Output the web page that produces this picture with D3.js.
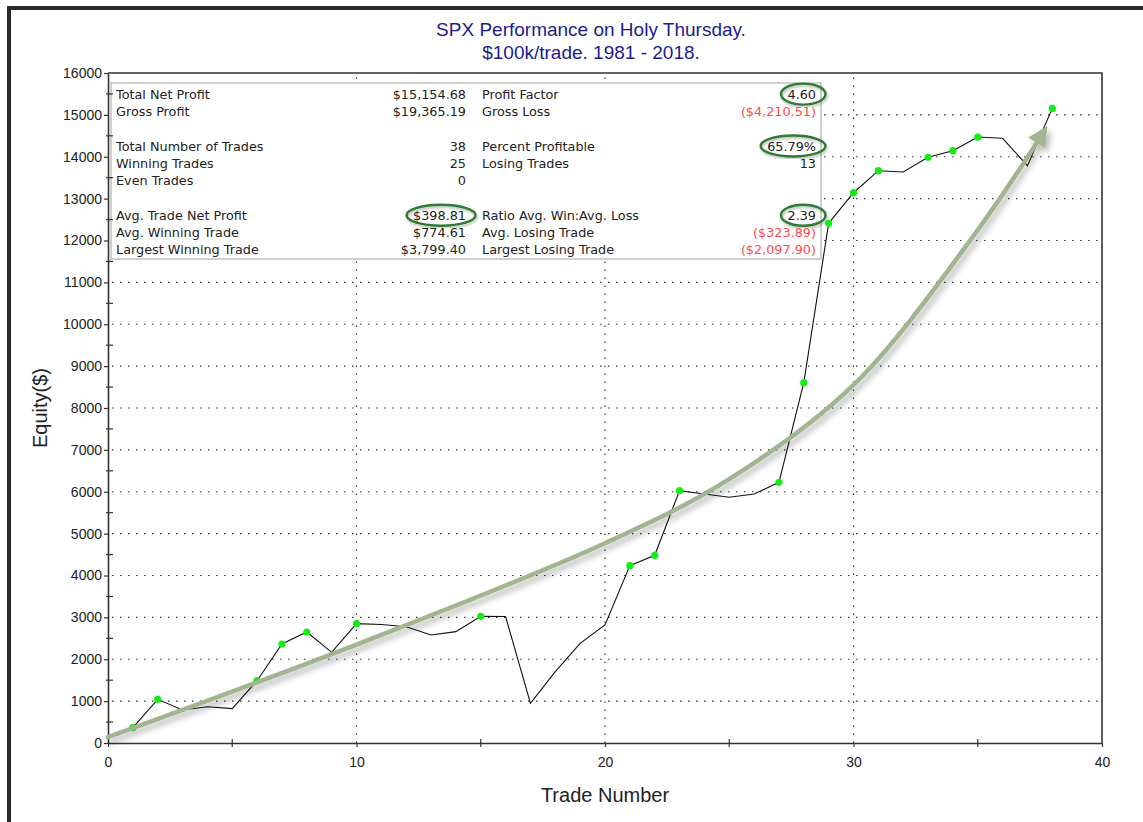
<!DOCTYPE html>
<html>
<head>
<meta charset="utf-8">
<script src="https://cdn.jsdelivr.net/npm/d3@7"></script>
<style>
  body { margin: 0; background: #fff; }
  svg { display: block; }
</style>
</head>
<body>
<svg id="chart"></svg>
<script>
// trade number vs closed equity
const trades = d3.range(1, 39)
const equity = [365, 1043, 788, 867, 820, 1488, 2364, 2651, 2165, 2850,
                2830, 2778, 2579, 2659, 3025, 3020, 947, 1703, 2380, 2818,
                4235, 4482, 6026, 5946, 5867, 5946, 6226, 8605, 12410, 13141,
                13667, 13636, 13987, 14145, 14470, 14440, 13786, 15155]

const yTicks = d3.range(0, 16001, 1000)
const xTicks = [0, 10, 20, 30, 40]

// the big "trend" arrow someone drew on top, in data units (trade, equity)
const arrowX = [0, 10, 20, 25, 30, 35, 37.5]
const arrowY = [140, 2350, 4770, 6300, 8550, 12250, 14450]

// stats table
const leftLabels = ['Total Net Profit', 'Gross Profit', 'Total Number of Trades', 'Winning Trades',
                    'Even Trades', 'Avg. Trade Net Profit', 'Avg. Winning Trade', 'Largest Winning Trade']
const leftValues = ['$15,154.68', '$19,365.19', '38', '25', '0', '$398.81', '$774.61', '$3,799.40']
const leftRows = [0, 1, 3, 4, 5, 7, 8, 9]
const rightLabels = ['Profit Factor', 'Gross Loss', 'Percent Profitable', 'Losing Trades',
                     'Ratio Avg. Win:Avg. Loss', 'Avg. Losing Trade', 'Largest Losing Trade']
const rightValues = ['4.60', '($4,210.51)', '65.79%', '13', '2.39', '($323.89)', '($2,097.90)']
const rightRows = [0, 1, 3, 4, 7, 8, 9]
const circled = ['$398.81', '4.60', '65.79%', '2.39']

const W = 1143, H = 822
const margin = {top: 73, right: 41, bottom: 79, left: 108}

const svg = d3.select('#chart').attr('width', W).attr('height', H)

const defs = svg.append('defs')
defs.append('filter').attr('id', 'shadow')
    .attr('x', '-10%').attr('y', '-10%').attr('width', '130%').attr('height', '130%')
  .append('feDropShadow')
    .attr('dx', 3).attr('dy', 4).attr('stdDeviation', 3)
    .attr('flood-color', '#000').attr('flood-opacity', 0.3)
defs.append('filter').attr('id', 'softshadow')
  .append('feDropShadow')
    .attr('dx', 1).attr('dy', 2).attr('stdDeviation', 1.2)
    .attr('flood-color', '#000').attr('flood-opacity', 0.25)
defs.append('marker')
    .attr('id', 'head')
    .attr('viewBox', '0 0 10 10')
    .attr('refX', 3).attr('refY', 5)
    .attr('markerUnits', 'userSpaceOnUse')
    .attr('markerWidth', 22).attr('markerHeight', 20)
    .attr('orient', 'auto')
  .append('path')
    .attr('d', 'M0,0 L10,5 L0,10 Z')
    .attr('fill', '#a0b590')

// outer dark frame (only top + left show)
svg.append('rect')
    .attr('x', 9).attr('y', 8)
    .attr('width', W + 20).attr('height', H + 20)
    .attr('fill', 'none').attr('stroke', '#2b2b2b').attr('stroke-width', 4)

const x = d3.scaleLinear().domain([0, 40]).range([margin.left, W - margin.right])
const y = d3.scaleLinear().domain([0, 16000]).range([H - margin.bottom, margin.top])

// title
const title = svg.append('g')
    .attr('font-family', 'Liberation Sans, Arial, sans-serif')
    .attr('font-size', 19)
    .attr('fill', '#1c1c8e')
    .attr('text-anchor', 'middle')
title.append('text').attr('x', 591).attr('y', 36).text('SPX Performance on Holy Thursday.')
title.append('text').attr('x', 591).attr('y', 59).text('$100k/trade. 1981 - 2018.')

// dotted grid
const grid = svg.append('g')
    .attr('stroke', '#333').attr('stroke-width', 1.2).attr('stroke-dasharray', '1.5,6.5')
grid.selectAll('.hgrid')
    .data(yTicks.filter(d => d > 0 && d < 16000))
    .join('line')
      .attr('class', 'hgrid')
      .attr('x1', x(0) + 4).attr('x2', x(40))
      .attr('y1', d => y(d)).attr('y2', d => y(d))
grid.selectAll('.vgrid')
    .data(xTicks.filter(d => d > 0 && d < 40))
    .join('line')
      .attr('class', 'vgrid')
      .attr('x1', d => x(d)).attr('x2', d => x(d))
      .attr('y1', y(0)).attr('y2', y(16000))

// stats box
const box = svg.append('g').attr('font-family', 'DejaVu Sans, Verdana, sans-serif').attr('font-size', 12.8)
box.append('rect')
    .attr('x', 111).attr('y', 83).attr('width', 710).attr('height', 176)
    .attr('fill', '#fff').attr('stroke', '#cfcfcf').attr('stroke-width', 2)

const rowY = r => 94 + r * 17.3
const statColor = v => v.startsWith('(') ? '#ff4a4a' : '#222'

function statColumn(labels, values, rows, labelX, valueX) {
    box.selectAll(null).data(labels).join('text')
        .attr('x', labelX).attr('y', (d, i) => rowY(rows[i])).attr('dy', '0.36em')
        .attr('fill', '#222').text(d => d)
    box.selectAll(null).data(values).join('text')
        .attr('class', 'val')
        .attr('x', valueX).attr('y', (d, i) => rowY(rows[i])).attr('dy', '0.36em')
        .attr('text-anchor', 'end')
        .attr('fill', statColor).text(d => d)
}
statColumn(leftLabels, leftValues, leftRows, 116, 466)
statColumn(rightLabels, rightValues, rightRows, 482, 816)

// green circles round the important numbers
box.selectAll('.val').filter(d => circled.includes(d)).each(function() {
    const b = this.getBBox()
    box.append('ellipse')
        .attr('cx', b.x + b.width / 2 + 1.5).attr('cy', b.y + b.height / 2)
        .attr('rx', b.width / 2 + 8).attr('ry', b.height / 2 + 3)
        .attr('fill', 'none').attr('stroke', '#2f7a34').attr('stroke-width', 2.4)
        .attr('filter', 'url(#softshadow)')
})

// axes
const axisFont = 'Liberation Sans, Arial, sans-serif'
const yAxis = svg.append('g')
    .attr('transform', `translate(${x(0)},0)`)
    .call(d3.axisLeft(y).tickValues(yTicks).tickSize(4).tickSizeOuter(0).tickFormat(d3.format('d')))
const xAxis = svg.append('g')
    .attr('transform', `translate(0,${y(0)})`)
    .call(d3.axisBottom(x).tickValues(xTicks).tickSize(4).tickSizeOuter(0).tickPadding(10))
;[yAxis, xAxis].forEach(a => {
    a.select('.domain').attr('stroke', '#333').attr('stroke-width', 1.6)
    a.selectAll('.tick line').attr('stroke', '#333').attr('stroke-width', 1.2)
    a.selectAll('.tick text').attr('font-family', axisFont).attr('font-size', 14).attr('fill', '#222')
})
yAxis.selectAll('.tick text').attr('x', -6)

// minor ticks (500s and every 5 trades)
svg.append('g').selectAll('line')
    .data(d3.range(500, 16000, 1000))
    .join('line')
      .attr('x1', x(0) - 2).attr('x2', x(0) + 5)
      .attr('y1', d => y(d)).attr('y2', d => y(d))
      .attr('stroke', '#333').attr('stroke-width', 1.2)
svg.append('g').selectAll('line')
    .data([5, 15, 25, 35])
    .join('line')
      .attr('x1', d => x(d)).attr('x2', d => x(d))
      .attr('y1', y(0) - 4).attr('y2', y(0) + 4)
      .attr('stroke', '#333').attr('stroke-width', 1.2)

// top + right border of plot
svg.append('path')
    .attr('d', `M${x(0)},${y(16000)} H${x(40)} V${y(0)}`)
    .attr('fill', 'none').attr('stroke', '#333').attr('stroke-width', 1.6)

// axis titles
svg.append('text')
    .attr('x', 605).attr('y', 802)
    .attr('text-anchor', 'middle')
    .attr('font-family', axisFont).attr('font-size', 20).attr('fill', '#222')
    .text('Trade Number')
svg.append('text')
    .attr('transform', 'translate(47,408) rotate(-90)')
    .attr('text-anchor', 'middle')
    .attr('font-family', axisFont).attr('font-size', 20).attr('fill', '#222')
    .text('Equity($)')

// equity line
const pts = trades.map((t, i) => ({t, v: equity[i]}))
svg.append('path')
    .datum(pts)
    .attr('fill', 'none').attr('stroke', '#111').attr('stroke-width', 1.1)
    .attr('d', d3.line().x(d => x(d.t)).y(d => y(d.v)))

// green markers only at new equity highs
let runMax = -Infinity
const highs = pts.filter(d => { if (d.v > runMax) { runMax = d.v; return true } return false })
svg.selectAll('.dot')
    .data(highs)
    .join('circle')
      .attr('class', 'dot')
      .attr('cx', d => x(d.t)).attr('cy', d => y(d.v))
      .attr('r', 3.6)
      .attr('fill', '#11ee11')

// the arrow
svg.append('path')
    .datum(arrowX.map((a, i) => [a, arrowY[i]]))
    .attr('fill', 'none')
    .attr('stroke', '#a0b590').attr('stroke-width', 4.5)
    .attr('stroke-linecap', 'round')
    .attr('marker-end', 'url(#head)')
    .attr('filter', 'url(#shadow)')
    .attr('d', d3.line().x(d => x(d[0])).y(d => y(d[1])).curve(d3.curveCatmullRom.alpha(0.5)))
</script>
</body>
</html>
